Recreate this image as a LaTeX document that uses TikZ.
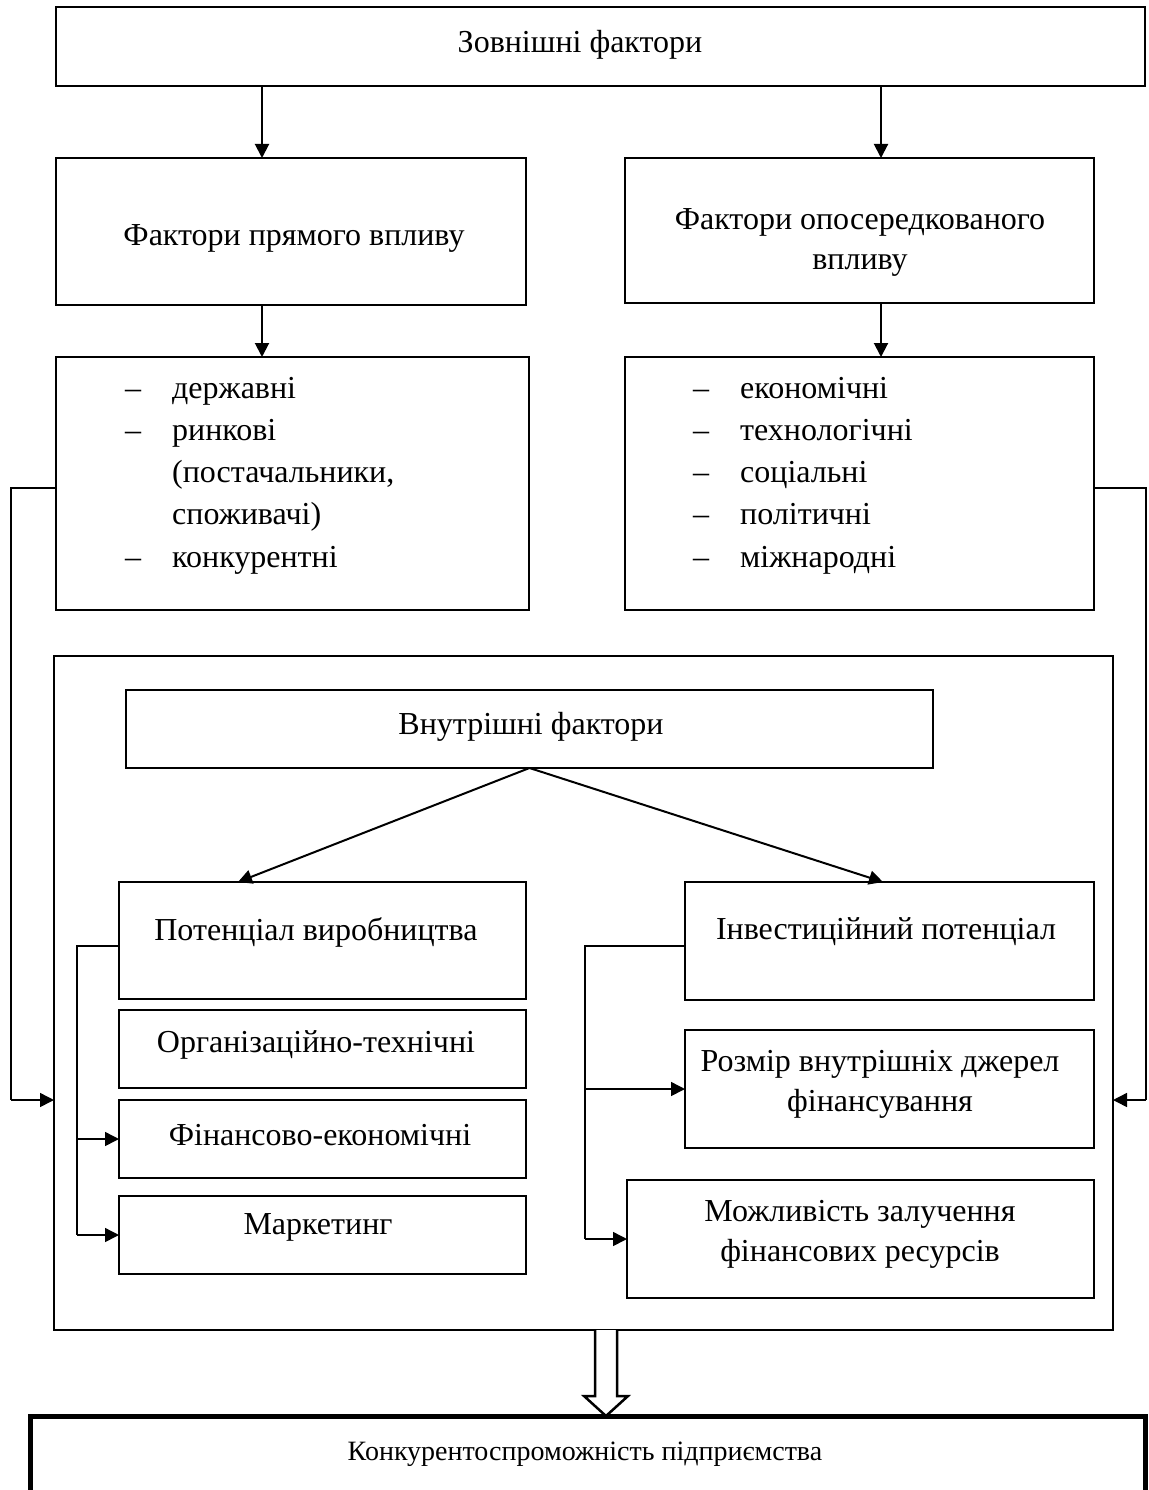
\documentclass[tikz,border=0pt]{standalone}
\usepackage{fontspec}
\setmainfont{Liberation Serif}
\usetikzlibrary{arrows.meta,calc}
\tikzset{
  box/.style={draw,line width=2.5pt,inner sep=0pt,outer sep=0pt,anchor=north west},
  thinbox/.style={draw,line width=1.2pt,inner sep=0pt,outer sep=0pt,anchor=north west},
  txt/.style={inner sep=0pt,font=\fontsize{32}{40}\selectfont,align=center},
  listtxt/.style={inner sep=0pt,anchor=north west,align=left,font=\fontsize{32}{42.2}\selectfont},
  arr/.style={line width=2pt,-{Triangle[length=14pt,width=14pt]}},
  conn/.style={line width=1.3pt},
}
\newcommand\itm[1]{\makebox[47pt][l]{#1}}
\begin{document}
\begin{tikzpicture}[x=1pt,y=-1pt]
\useasboundingbox (0,0) rectangle (1148,1490);
% boxes
\node[box,minimum width=1089pt,minimum height=79pt] (top) at (56,7) {};
\node[box,minimum width=470pt,minimum height=147pt] (pr) at (56,158) {};
\node[box,minimum width=469pt,minimum height=145pt] (op) at (625,158) {};
\node[box,minimum width=473pt,minimum height=253pt] (l1) at (56,357) {};
\node[box,minimum width=469pt,minimum height=253pt] (l2) at (625,357) {};
\node[thinbox,minimum width=1059pt,minimum height=674pt] (outer) at (54,656) {};
\node[box,minimum width=807pt,minimum height=78pt] (vn) at (126,690) {};
\node[box,minimum width=407pt,minimum height=117pt] (pv) at (119,882) {};
\node[box,minimum width=407pt,minimum height=78pt] (ot) at (119,1010) {};
\node[box,minimum width=407pt,minimum height=78pt] (fe) at (119,1100) {};
\node[box,minimum width=407pt,minimum height=78pt] (mk) at (119,1196) {};
\node[box,minimum width=409pt,minimum height=118pt] (ip) at (685,882) {};
\node[box,minimum width=409pt,minimum height=118pt] (rz) at (685,1030) {};
\node[box,minimum width=467pt,minimum height=118pt] (mz) at (627,1180) {};
\node[draw,line width=5pt,inner sep=0pt,outer sep=0pt,anchor=north west,minimum width=1115pt,minimum height=80pt] (kp) at (30,1416) {};
% texts
\node[txt] (tTop) at (580,45) {Зовнішні фактори};
\node[txt] (tPr) at (294,238) {Фактори прямого впливу};
\node[txt] (tOp) at (860,242) {Фактори опосередкованого\\впливу};
\node[listtxt] (tL1) at (125,374)
 {\itm{\rule{0pt}{24pt}–}державні\\
  \itm{–}ринкові\\
  \itm{}(постачальники,\\
  \itm{}споживачі)\\
  \itm{–}конкурентні};
\node[listtxt] (tL2) at (693,374)
 {\itm{\rule{0pt}{24pt}–}економічні\\
  \itm{–}технологічні\\
  \itm{–}соціальні\\
  \itm{–}політичні\\
  \itm{–}міжнародні};
\node[txt] (tVn) at (531,727) {Внутрішні фактори};
\node[txt] (tPv) at (316,932) {Потенціал виробництва};
\node[txt] (tOt) at (316,1045) {Організаційно-технічні};
\node[txt] (tFe) at (320,1135) {Фінансово-економічні};
\node[txt] (tMk) at (318,1227) {Маркетинг};
\node[txt] (tIp) at (886,932) {Інвестиційний потенціал};
\node[txt] (tRz) at (880,1084) {Розмір внутрішніх джерел\\фінансування};
\node[txt] (tMz) at (860,1234) {Можливість залучення\\фінансових ресурсів};
\node[txt,font=\fontsize{28}{34}\selectfont] (tKp) at (585,1454) {Конкурентоспроможність підприємства};
% arrows from top
\draw[arr] (top.south -| 262,0) -- (pr.north -| 262,0);
\draw[arr] (top.south -| 881,0) -- (op.north -| 881,0);
\draw[arr] (pr.south -| 262,0) -- (l1.north -| 262,0);
\draw[arr] (op.south -| 881,0) -- (l2.north -| 881,0);
% side connectors
\coordinate (inL) at (54,1100);
\coordinate (inR) at (1113,1100);
\coordinate (sL) at (11,488);
\coordinate (sR) at (1146,488);
\draw[conn] (l1.west |- sL) -- (sL) -- (sL |- inL);
\draw[arr,line width=1.5pt] (sL |- inL) -- (inL);
\draw[conn] (l2.east |- sR) -- (sR) -- (sR |- inR);
\draw[arr,line width=1.5pt] (sR |- inR) -- (inR);
% internal
\draw[arr] (vn.south) -- (238,882);
\draw[arr] (vn.south) -- (883,882);
\coordinate (lb) at (77,946);
\draw[conn] (pv.west |- lb) -- (lb) -- (lb |- mk.west);
\draw[arr,line width=1.5pt] (lb |- fe.west) -- (fe.west);
\draw[arr,line width=1.5pt] (lb |- mk.west) -- (mk.west);
\coordinate (rb) at (585,946);
\draw[conn] (ip.west |- rb) -- (rb) -- (rb |- mz.west);
\draw[arr,line width=1.5pt] (rb |- rz.west) -- (rz.west);
\draw[arr,line width=1.5pt] (rb |- mz.west) -- (mz.west);
% hollow arrow
\draw[line width=2.5pt,fill=white,line join=miter] (595,1330) -- (595,1396) -- (584,1396) -- (606,1416) -- (628,1396) -- (617,1396) -- (617,1330);
\end{tikzpicture}
\end{document}
